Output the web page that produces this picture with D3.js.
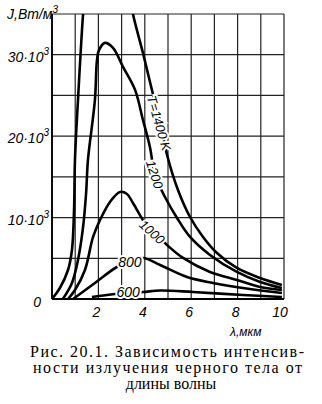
<!DOCTYPE html>
<html><head><meta charset="utf-8">
<script src="https://cdn.jsdelivr.net/npm/d3@7"></script>
<style>body{margin:0;background:#fff}svg{display:block}</style>
</head><body>
<script>
// wavelength (µm) and intensity (W/m^3)
const xTicks = [2, 4, 6, 8, 10];
const yTicks = [0, 10000, 20000, 30000];
const yTickLabels = ["0", "10·10", "20·10", "30·10"];
const temps = ["1400", "1200", "1000", "800", "600"];
const lam1400 = [0, 0.34, 0.69, 0.86, 0.95, 0.99, 1.12, 1.34, 1.42, 3.36, 3.49, 3.92, 4.35, 4.66, 4.96, 5.43, 5.95, 6.51, 7.11, 7.97, 8.97, 9.91];
const J1400   = [0, 1350, 3560, 6020, 10930, 17080, 24450, 35000, 37500, 37350, 35000, 30220, 25180, 21740, 17690, 13390, 10070, 7620, 5650, 3810, 2580, 1720];
const lam1200 = [0.47, 0.86, 1.12, 1.34, 1.47, 1.55, 1.85, 1.94, 2.03, 2.28, 2.63, 3.06, 3.58, 3.92, 4.22, 4.44, 4.87, 5.39, 5.95, 6.81, 7.97, 8.97, 9.91];
const J1200   = [0, 1970, 4790, 8850, 13020, 17080, 24450, 29360, 30590, 31450, 30840, 28500, 25680, 21990, 18670, 15230, 12530, 9950, 7620, 5410, 3320, 2090, 1350];
const lam1000 = [0.69, 0.99, 1.42, 1.77, 2.07, 2.5, 2.93, 3.23, 3.49, 3.92, 4.31, 4.66, 4.96, 5.65, 6.81, 7.97, 8.97, 9.91];
const J1000   = [0, 1100, 3560, 7620, 9700, 11920, 13140, 12900, 11790, 9700, 8230, 7490, 6630, 5040, 3320, 2330, 1470, 1100];
const lam800  = [0.91, 1.85, 2.8, 3.36, 3.92, 4.66, 5.82, 6.94, 8.23, 9.91];
const J800    = [0, 1970, 3930, 4545, 5040, 4180, 2700, 1970, 1350, 740];
const lam600  = [1.72, 2.72, 3.92, 4.66, 6.08, 8.23, 9.91];
const J600    = [250, 610, 860, 1040, 860, 490, 250];

const W = 322, H = 404;
const m = {l: 52, r: 284, t: 14, b: 299};
const svg = d3.select("body").append("svg").attr("width", W).attr("height", H);
const x = d3.scaleLinear().domain([0, 10]).range([m.l, m.r]);
const y = d3.scaleLinear().domain([0, 35000]).range([m.b, m.t]);

// grid
const g = svg.append("g").attr("stroke", "#222").attr("stroke-width", 1.2);
g.selectAll("line.v").data(d3.range(0, 11)).join("line")
  .attr("x1", d => x(d)).attr("x2", d => x(d)).attr("y1", y(0)).attr("y2", y(35000));
g.selectAll("line.h").data(d3.range(0, 35001, 5000)).join("line")
  .attr("y1", d => y(d)).attr("y2", d => y(d)).attr("x1", x(0)).attr("x2", x(10));
svg.append("line").attr("x1", x(0)).attr("x2", x(10)).attr("y1", y(0)).attr("y2", y(0)).attr("stroke", "#000").attr("stroke-width", 1.8);
svg.append("line").attr("x1", x(0)).attr("x2", x(0)).attr("y1", y(0)).attr("y2", y(35000)).attr("stroke", "#000").attr("stroke-width", 1.8);

svg.append("clipPath").attr("id", "clip").append("rect")
  .attr("x", m.l).attr("y", m.t).attr("width", m.r - m.l).attr("height", m.b - m.t);

const series = [[lam1400, J1400], [lam1200, J1200], [lam1000, J1000], [lam800, J800], [lam600, J600]];
const line = d3.line().x(d => x(d[0])).y(d => y(d[1])).curve(d3.curveCatmullRom.alpha(0.5));
svg.append("g").attr("clip-path", "url(#clip)").selectAll("path").data(series).join("path")
  .attr("d", s => line(s[0].map((v, i) => [v, s[1][i]])))
  .attr("fill", "none").attr("stroke", "#000").attr("stroke-width", 2.6).attr("stroke-linejoin", "round");

// curve labels
const lab = (txt, cx, cy, rot, fs) => svg.append("text")
  .attr("transform", `translate(${cx},${cy}) rotate(${rot})`)
  .attr("text-anchor", "middle").attr("dy", "0.35em")
  .attr("font-family", "Liberation Sans, Arial, sans-serif").attr("font-style", "italic")
  .attr("font-size", fs).attr("fill", "#000")
  .attr("stroke", "#fff").attr("stroke-width", 4).attr("paint-order", "stroke")
  .text(txt);
lab("T=" + temps[0] + " K", x(4.61), y(21600), 74, 13);
lab(temps[1], x(4.42), y(15300), 72, 13);
lab(temps[2], x(4.31), y(8230), 42, 13);
lab(temps[3], x(3.36), y(4550), 0, 14);
lab(temps[4], x(3.28), y(860), 0, 14);

// y tick labels
const ty = svg.append("g").attr("font-family", "Liberation Sans, Arial, sans-serif")
  .attr("font-style", "italic").attr("font-size", 14).attr("fill", "#000");
yTicks.forEach((v, i) => {
  const t = ty.append("text").attr("x", i === 0 ? 41 : 49).attr("y", y(v) + (i === 0 ? 8 : 7)).attr("text-anchor", "end").text(yTickLabels[i]);
  if (i > 0) t.append("tspan").attr("font-size", 10).attr("dy", -7).text("3");
});
const yl = ty.append("text").attr("x", 7).attr("y", 19).attr("font-size", 14).text("J,Вт/м");
yl.append("tspan").attr("font-size", 10).attr("dy", -6).text("3");

// x tick labels
svg.append("g").attr("font-family", "Liberation Sans, Arial, sans-serif").attr("font-style", "italic")
  .attr("font-size", 14).attr("fill", "#000")
  .selectAll("text").data(xTicks).join("text")
  .attr("x", d => x(d) - (d === 10 ? 4 : 2)).attr("y", 317).attr("text-anchor", "middle").text(d => d);
svg.append("text").attr("x", 230).attr("y", 336).attr("font-family", "Liberation Sans, Arial, sans-serif")
  .attr("font-style", "italic").attr("font-size", 12).text("λ,мкм");

// caption
const cap = [["Рис. 20.1. Зависимость интенсив-", 30, 357, 274], ["ности излучения черного тела от", 33, 373, 269]];
cap.forEach(c => {
  svg.append("text").attr("x", c[1]).attr("y", c[2]).attr("font-family", "Liberation Serif, Times New Roman, serif")
    .attr("font-size", 16).attr("fill", "#000").attr("textLength", c[3]).attr("lengthAdjust", "spacing").text(c[0]);
});
svg.append("text").attr("x", 171).attr("y", 389).attr("text-anchor", "middle")
  .attr("font-family", "Liberation Serif, Times New Roman, serif").attr("font-size", 16).text("длины волны");
</script>
</body></html>
